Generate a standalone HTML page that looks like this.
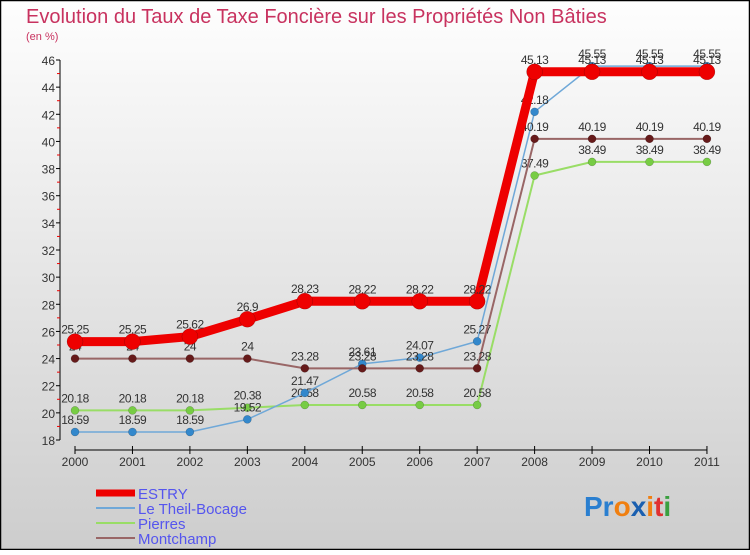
<!DOCTYPE html>
<html><head><meta charset="utf-8"><style>
body{margin:0;width:750px;height:550px;overflow:hidden;font-family:"Liberation Sans",sans-serif}
</style></head><body>
<svg id="c" width="750" height="550" xmlns="http://www.w3.org/2000/svg">
<defs><linearGradient id="bg" x1="0" y1="0" x2="0" y2="1"><stop offset="0" stop-color="#fefefe"/><stop offset="1" stop-color="#cdcdcd"/></linearGradient></defs>
<rect x="0.5" y="0.5" width="749" height="549" fill="url(#bg)" stroke="#000" stroke-width="1.5"/>
<text x="26" y="23" font-size="20" fill="#c8325f">Evolution du Taux de Taxe Foncière sur les Propriétés Non Bâties</text>
<text x="26" y="40" font-size="11" fill="#c8325f">(en %)</text>
<g id="axes"></g><g id="series"></g><g id="legend"></g>
<text x="584" y="516" font-size="28" font-weight="bold"><tspan fill="#2a7fd0">Pr</tspan><tspan fill="#f07f10">o</tspan><tspan fill="#1a5fb0">x</tspan><tspan fill="#f07f10">i</tspan><tspan fill="#e03030">t</tspan><tspan fill="#3aa040">i</tspan></text>
</svg>
<script>
const years=["2000","2001","2002","2003","2004","2005","2006","2007","2008","2009","2010","2011"];
const yTicks=[18,20,22,24,26,28,30,32,34,36,38,40,42,44,46];
const estry=[25.25,25.25,25.62,26.9,28.23,28.22,28.22,28.22,45.13,45.13,45.13,45.13];
const theil=[18.59,18.59,18.59,19.52,21.47,23.61,24.07,25.27,42.18,45.55,45.55,45.55];
const pierres=[20.18,20.18,20.18,20.38,20.58,20.58,20.58,20.58,37.49,38.49,38.49,38.49];
const montchamp=[24,24,24,24,23.28,23.28,23.28,23.28,40.19,40.19,40.19,40.19];
const NS="http://www.w3.org/2000/svg";
const X=i=>75+i*57.45, Y=v=>440-(v-18)*(380/28);
function mk(tag,at,par){const e=document.createElementNS(NS,tag);for(const k in at)e.setAttribute(k,at[k]);par.appendChild(e);return e;}
const ax=document.getElementById('axes');
const ya=mk('line',{x1:60,y1:Y(46),x2:60,y2:Y(18),stroke:'#000','stroke-width':1},ax);


yTicks.forEach(t=>{
 const l=mk('line',{x1:56,y1:Y(t),x2:60,y2:Y(t),stroke:'#000'},ax);
 
 
 const m=mk('line',{x1:57,y1:Y(t+1),x2:60,y2:Y(t+1),stroke:'#e00'},ax);
 if(t==46)m.remove();
 
 
 const tx=mk('text',{x:55,y:Y(t)+5,'text-anchor':'end','font-size':12,fill:'#333'},ax);tx.textContent=t;
 
 
});
const xa=mk('line',{x1:X(0),y1:450,x2:X(11),y2:450,stroke:'#000'},ax);


years.forEach((y,i)=>{
 const l=mk('line',{x1:X(i),y1:446,x2:X(i),y2:454,stroke:'#000'},ax);
 
 
 const tx=mk('text',{x:X(i),y:466,'text-anchor':'middle','font-size':12,fill:'#333'},ax);tx.textContent=y;
 
 
});
const sg=document.getElementById('series');
const defs=[["pierres",pierres,"#99dd66","#77cc44",2,4],["theil",theil,"#6fa8d8","#3388cc",1.5,4],["montchamp",montchamp,"#996666","#661a1a",2,4],["estry",estry,"#ee0000","#ee0000",9,8]];
defs.forEach(([n,d,c,mc,w,r])=>{
 const p=mk('polyline',{points:d.map((v,i)=>X(i)+','+Y(v)).join(' '),fill:'none',stroke:c,'stroke-width':w},sg);
 
 
 d.forEach((v,i)=>{
  const ci=mk('circle',{cx:X(i),cy:Y(v),r:r,fill:mc,stroke:'rgba(0,0,0,0.3)','stroke-width':0.5},sg);
  
  
  const t=mk('text',{x:X(i),y:Y(v)-8,'text-anchor':'middle','font-size':12,fill:'#333','letter-spacing':'-0.5'},sg);t.textContent=v;
  
  
 });
});
const lg=document.getElementById('legend');
[["ESTRY","#ee0000",7],["Le Theil-Bocage","#6fa8d8",2],["Pierres","#99dd66",2],["Montchamp","#996666",2]].forEach(([n,c,w],i)=>{
 const y=493+i*15;
 const l=mk('line',{x1:96,y1:y,x2:135,y2:y,stroke:c,'stroke-width':w},lg);
 
 
 const t=mk('text',{x:138,y:y+6,'font-size':15,fill:'#5555ee'},lg);t.textContent=n;
 
 
});
</script>
</body></html>
